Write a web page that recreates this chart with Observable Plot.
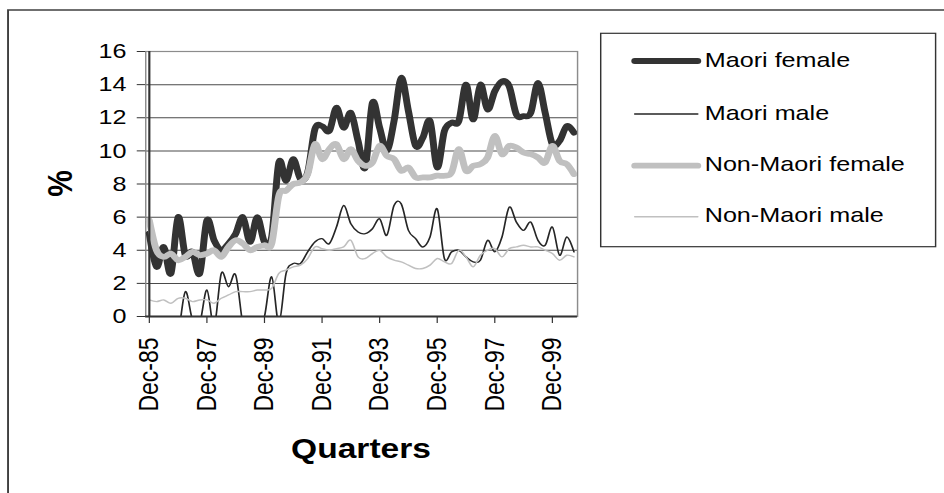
<!DOCTYPE html>
<html>
<head>
<meta charset="utf-8">
<script src="https://cdn.jsdelivr.net/npm/d3@7"></script>
<script src="https://cdn.jsdelivr.net/npm/@observablehq/plot@0.6"></script>
<style>
  body { margin: 0; background: #fff; }
  #chart svg { display: block; }
</style>
</head>
<body>
<div id="chart"></div>
<script>
// Quarterly categories, Dec-85 through Sep-00
const quarterMonths = ["Dec", "Mar", "Jun", "Sep"];
const firstYear = 85;
const quarterCount = 60;
const quarters = d3.range(quarterCount).map(i => {
  const yy = (firstYear + Math.ceil(i / 4)) % 100;
  return `${quarterMonths[i % 4]}-${String(yy).padStart(2, "0")}`;
});

// Labelled ticks on the category axis (every second December)
const tickLabels = ["Dec-85", "Dec-87", "Dec-89", "Dec-91", "Dec-93", "Dec-95", "Dec-97", "Dec-99"];
const yTicks = [0, 2, 4, 6, 8, 10, 12, 14, 16];

// Series values (%), one per quarter
const maoriFemale = [
  5.0, 3.0, 4.2, 2.6, 6.0, 3.7, 3.9, 2.6, 5.8, 4.6,
  4.0, 4.4, 5.0, 6.0, 4.5, 6.0, 4.5, 4.8, 9.3, 8.2,
  9.5, 8.3, 8.7, 11.3, 11.5, 11.2, 12.6, 11.4, 12.3, 10.6,
  9.0, 12.9, 11.4, 10.0, 11.8, 14.4, 12.4, 10.3, 10.8, 11.8,
  9.0, 11.2, 11.7, 11.8, 14.0, 11.9, 14.0, 12.5, 13.6, 14.2,
  13.9, 12.2, 12.1, 12.3, 14.1, 12.3, 10.4, 10.6, 11.5, 11.1
];
const maoriMale = [
  -1.5, -2.0, -1.5, -1.2, -1.0, 1.5, -0.2, -0.4, 1.6, -0.6,
  2.6, 1.8, 2.5, -0.5, -2.0, -1.0, 0.0, 2.4, -0.4, 2.6,
  3.2, 3.2, 3.9, 4.5, 4.7, 4.4, 5.4, 6.7, 5.6, 5.1,
  5.0, 5.3, 5.9, 4.9, 6.7, 6.8, 5.2, 4.7, 4.2, 4.8,
  6.5, 3.5, 3.9, 4.0, 3.6, 3.3, 3.4, 4.6, 3.9, 4.8,
  6.6, 5.7, 5.2, 5.7, 4.6, 4.3, 5.4, 3.7, 4.8, 3.9
];
const nonMaoriFemale = [
  5.8, 4.0, 3.6, 3.8, 3.4, 3.6, 3.9, 3.7, 3.8, 4.0,
  3.6, 4.2, 4.6, 4.4, 4.0, 4.2, 4.3, 4.4, 7.3, 7.6,
  8.0, 8.1, 8.6, 10.4, 9.5, 10.1, 10.4, 9.5, 10.1, 9.4,
  9.1, 9.3, 10.3, 9.7, 9.5, 8.8, 9.0, 8.4, 8.4, 8.4,
  8.5, 8.5, 8.7, 10.1, 8.8, 9.1, 9.2, 9.6, 10.9, 9.8,
  10.3, 10.2, 9.9, 9.8, 9.6, 9.3, 10.3, 9.4, 9.2, 8.6
];
const nonMaoriMale = [
  1.0, 0.9, 1.0, 0.8, 1.1, 1.1, 0.9, 1.0, 1.0, 0.8,
  1.1, 1.3, 1.5, 1.5, 1.5, 1.6, 1.6, 1.7, 2.6, 2.8,
  3.0, 3.1, 3.5, 4.2, 4.1, 4.0, 4.1, 4.2, 4.6, 3.6,
  3.5, 3.8, 4.0, 3.6, 3.4, 3.3, 3.1, 2.9, 2.9, 3.1,
  3.5, 3.3, 3.2, 4.0, 3.6, 3.0, 3.7, 4.0, 4.1, 3.6,
  4.1, 4.2, 4.3, 4.2, 4.2, 4.0, 3.8, 3.4, 3.7, 3.6
];

const seriesNames = ["Maori female", "Maori male", "Non-Maori female", "Non-Maori male"];
const seriesValues = [maoriFemale, maoriMale, nonMaoriFemale, nonMaoriMale];
const seriesStroke = ["#333333", "#262626", "#c0c0c0", "#c0c0c0"];
const seriesWidth = [5.8, 1.4, 5.8, 1.4];

// The chart is laid out on a narrower canvas, then stretched horizontally to the page width
const W = 787, H = 493, PAGE_W = 944;
const FONT = "'Liberation Sans', Arial, Helvetica, sans-serif";

const lineMarks = seriesValues.map((values, s) =>
  Plot.line(values, {
    x: (d, i) => quarters[i],
    y: d => d,
    curve: "cardinal",
    tension: 0,
    stroke: seriesStroke[s],
    strokeWidth: seriesWidth[s],
    strokeLinejoin: "round",
    strokeLinecap: "round",
    clip: true
  })
);

const plot = Plot.plot({
  width: W,
  height: H,
  marginLeft: 121,
  marginRight: 306,
  marginTop: 51,
  marginBottom: 177,
  style: { fontFamily: FONT, color: "#000", background: "#fff" },
  x: { type: "point", domain: quarters, padding: 0 },
  y: { domain: [0, 16] },
  marks: [
    Plot.gridY(yTicks, { stroke: "#4a4a4a", strokeOpacity: 1, strokeWidth: 1 }),
    Plot.frame({ stroke: "#8c8c8c", strokeWidth: 1.2 }),
    ...lineMarks,
    Plot.ruleY([0], { stroke: "#333", strokeWidth: 1.8 }),
    Plot.ruleX([quarters[0]], { stroke: "#333", strokeWidth: 1.8 }),
    Plot.axisY({ ticks: yTicks, tickSize: 7, tickPadding: 9, fontSize: 21, label: null, stroke: "#333" }),
    Plot.axisX({ ticks: tickLabels, tickSize: 7, tickPadding: 14, tickRotate: -90, fontSize: 23, label: null, stroke: "#333" })
  ]
});

const svg = d3.select(plot);
svg.attr("width", PAGE_W)
   .attr("height", H)
   .attr("viewBox", `0 0 ${W} ${H}`)
   .attr("preserveAspectRatio", "none")
   .style("width", PAGE_W + "px")
   .style("height", H + "px")
   .style("max-width", "none");

// Outer chart border (left and top edges)
svg.append("path")
  .attr("d", `M6.7,${H} V10 H${W}`)
  .attr("fill", "none")
  .attr("stroke", "#404040")
  .attr("stroke-width", 1.6);

// Axis titles
svg.append("text")
  .attr("transform", "translate(49.7,183.5) rotate(-90)")
  .attr("text-anchor", "middle")
  .attr("dominant-baseline", "central")
  .attr("font-family", FONT)
  .attr("font-weight", "bold")
  .attr("font-size", 30)
  .text("%");

svg.append("text")
  .attr("x", 301)
  .attr("y", 458)
  .attr("text-anchor", "middle")
  .attr("font-family", FONT)
  .attr("font-weight", "bold")
  .attr("font-size", 28)
  .text("Quarters");

// Legend
const legend = svg.append("g").attr("text-anchor", "start");
legend.append("rect")
  .attr("x", 500.8).attr("y", 33.3)
  .attr("width", 279.2).attr("height", 213.4)
  .attr("fill", "#fff")
  .attr("stroke", "#333")
  .attr("stroke-width", 1.2);
const legendY = [61, 114, 165.7, 216.7];
seriesNames.forEach((name, s) => {
  legend.append("line")
    .attr("x1", 529.2).attr("x2", 581.7)
    .attr("y1", legendY[s]).attr("y2", legendY[s])
    .attr("stroke", seriesStroke[s])
    .attr("stroke-width", seriesWidth[s])
    .attr("stroke-linecap", "round");
  legend.append("text")
    .attr("x", 587.5)
    .attr("y", legendY[s] + 5.7)
    .attr("text-anchor", "start")
    .attr("font-family", FONT)
    .attr("font-size", 21)
    .attr("fill", "#000")
    .text(name);
});

document.getElementById("chart").appendChild(plot);
</script>
</body>
</html>
